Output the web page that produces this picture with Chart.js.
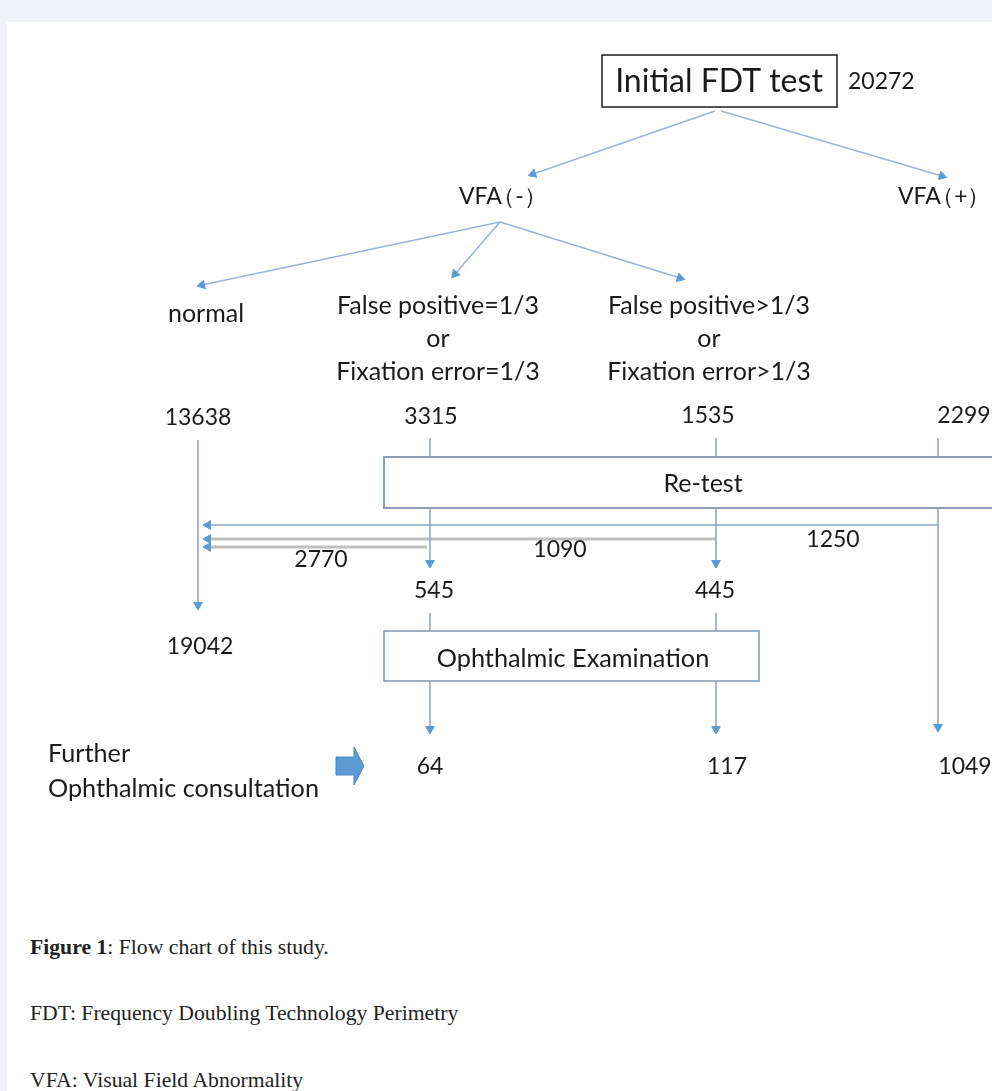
<!DOCTYPE html>
<html>
<head>
<meta charset="utf-8">
<script src="https://cdn.jsdelivr.net/npm/chart.js@4.4.1/dist/chart.umd.min.js"></script>
<style>
  html, body { margin: 0; padding: 0; }
  body { width: 992px; height: 1091px; background: #eff1f7; position: relative; overflow: hidden; }
  #panel { position: absolute; left: 7px; top: 22px; right: 0; bottom: 0; background: #fff; }
  #flow { position: absolute; left: 0; top: 0; }
  .cap { position: absolute; left: 30px; font-family: "Liberation Serif", "Times New Roman", serif; font-size: 21.7px; line-height: 22px; color: #222; white-space: nowrap; }
</style>
</head>
<body>
<div id="panel"></div>
<canvas id="flow" width="992" height="840"></canvas>
<div class="cap" style="top:936px"><b>Figure 1</b>: Flow chart of this study.</div>
<div class="cap" style="top:1002px">FDT: Frequency Doubling Technology Perimetry</div>
<div class="cap" style="top:1069px">VFA: Visual Field Abnormality</div>
<script>
// counts
const initialCount = 20272;
const firstSplit = ["VFA（-）", "VFA（+）"];
const vfaNegGroups = ["normal", "False positive=1/3\nor\nFixation error=1/3", "False positive>1/3\nor\nFixation error>1/3"];
const groupCounts = [13638, 3315, 1535, 2299];
const backToNormal = [2770, 1090, 1250];
const afterRetest = [545, 445];
const normalTotal = 19042;
const consultCounts = [64, 117, 1049];
const boxLabels = ["Initial FDT test", "Re-test", "Ophthalmic Examination"];
const sideLabel = "Further\nOphthalmic consultation";

// layout (figure coordinates, y grows downward)
const boxRects = [[602, 55, 837, 107], [384, 457, 1000, 508], [384, 631, 759, 681]];
const arrowEdges = [
  [715, 111, 533, 174], [721, 111, 942, 176],
  [500, 222, 202, 285], [500, 222, 455, 274], [500, 222, 680, 278],
  [198, 440, 198, 605], [430, 508, 430, 563], [716, 508, 716, 563],
  [938, 508, 938, 727], [430, 681, 430, 729], [716, 681, 716, 729]
];
const plainEdges = [[430, 438, 430, 457], [716, 438, 716, 457], [938, 438, 938, 457], [430, 613, 430, 631], [716, 613, 716, 631]];
const returnEdges = [[938, 525, 208, 525], [716, 539, 208, 539], [427, 547, 208, 547]];
const lineColors = ["#9db3d3", "#9db3d3", "#9db3d3", "#9db3d3", "#9db3d3", "#98a6b8", "#98a6b8", "#98a6b8", "#98a6b8", "#98a6b8", "#98a6b8"];

const arrowBlue = "#5b9bd5";
const font = 'Lato, "Liberation Sans", sans-serif';

function angleOf(e) {
  return Math.atan2(e[2] - e[0], -(e[3] - e[1])) * 180 / Math.PI;
}

function edgeSet(e, color, width, head) {
  return {
    type: "line",
    data: [{ x: e[0], y: e[1] }, { x: e[2], y: e[3] }],
    borderColor: color,
    borderWidth: width,
    showLine: true,
    pointStyle: "triangle",
    pointRadius: (ctx) => (head && ctx.dataIndex === 1 ? 5 : 0),
    pointRotation: angleOf(e),
    pointBackgroundColor: arrowBlue,
    pointBorderColor: arrowBlue,
    pointBorderWidth: 1,
    clip: false,
  };
}

const datasets = [];
arrowEdges.forEach((e, i) => datasets.push(edgeSet(e, lineColors[i], 1.6, true)));
plainEdges.forEach((e) => datasets.push(edgeSet(e, "#98a6b8", 1.6, false)));
datasets.push(edgeSet(returnEdges[0], "#8fa3bd", 1.6, true));
datasets.push(edgeSet(returnEdges[1], "#c0c0c0", 3, true));
datasets.push(edgeSet(returnEdges[2], "#c0c0c0", 3, true));

// text items: [text, x, y, size, align, line step]
const texts = [
  [boxLabels[0], 719, 82, 32, "center"],
  [String(initialCount), 848, 82, 23, "left"],
  [firstSplit[0], 459, 197, 23, "left"],
  [firstSplit[1], 898, 197, 23, "left"],
  [vfaNegGroups[0], 206, 314, 25, "center"],
  [vfaNegGroups[1], 438, 306, 25, "center", 33],
  [vfaNegGroups[2], 709, 306, 25, "center", 33],
  [String(groupCounts[0]), 198, 418, 23, "center"],
  [String(groupCounts[1]), 431, 417, 23, "center"],
  [String(groupCounts[2]), 708, 416, 23, "center"],
  [String(groupCounts[3]), 964, 416, 23, "center"],
  [boxLabels[1], 703, 484, 25, "center"],
  [String(backToNormal[0]), 321, 560, 23, "center"],
  [String(backToNormal[1]), 560, 550, 23, "center"],
  [String(backToNormal[2]), 833, 540, 23, "center"],
  [String(afterRetest[0]), 434, 591, 23, "center"],
  [String(afterRetest[1]), 715, 591, 23, "center"],
  [String(normalTotal), 200, 647, 23, "center"],
  [boxLabels[2], 573, 659, 25.3, "center"],
  [sideLabel, 48, 754, 25.2, "left", 35],
  [String(consultCounts[0]), 430, 767, 23, "center"],
  [String(consultCounts[1]), 727, 767, 23, "center"],
  [String(consultCounts[2]), 965, 767, 23, "center"],
];

const flowPlugin = {
  id: "flow",
  beforeDatasetsDraw(chart) {
    const { ctx, scales: { x, y } } = chart;
    ctx.save();
    boxRects.forEach((r, i) => {
      const x0 = x.getPixelForValue(r[0]), y0 = y.getPixelForValue(r[1]);
      const x1 = x.getPixelForValue(r[2]), y1 = y.getPixelForValue(r[3]);
      ctx.fillStyle = "#fff";
      ctx.fillRect(x0, y0, x1 - x0, y1 - y0);
      ctx.strokeStyle = i === 0 ? "#1e1e1e" : (i === 1 ? "#8a9db8" : "#7f96b6");
      ctx.lineWidth = i === 1 ? 2 : 1.5;
      ctx.strokeRect(x0, y0, x1 - x0, y1 - y0);
    });
    // block arrow next to "Further Ophthalmic consultation"
    const pts = [[336, 757], [354, 757], [354, 747], [364, 766], [354, 785], [354, 775], [336, 775]];
    ctx.beginPath();
    pts.forEach((p, i) => {
      const px = x.getPixelForValue(p[0]), py = y.getPixelForValue(p[1]);
      i ? ctx.lineTo(px, py) : ctx.moveTo(px, py);
    });
    ctx.closePath();
    ctx.fillStyle = arrowBlue;
    ctx.fill();
    ctx.strokeStyle = "#4a86c0";
    ctx.lineWidth = 1;
    ctx.stroke();
    ctx.restore();
  },
  afterDatasetsDraw(chart) {
    const { ctx, scales: { x, y } } = chart;
    ctx.save();
    ctx.fillStyle = "#1a1a1a";
    ctx.textBaseline = "middle";
    texts.forEach((t) => {
      ctx.font = t[3] + "px " + font;
      ctx.textAlign = t[4];
      const step = t[5] || 33;
      t[0].split("\n").forEach((ln, k) => {
        const px = x.getPixelForValue(t[1]);
        const py = y.getPixelForValue(t[2] + k * step);
        const cut = ln.indexOf("（");
        if (cut > 0) {
          // full-width brackets sit tight to the word, as in the figure
          const head = ln.slice(0, cut);
          ctx.fillText(head, px, py);
          ctx.fillText(ln.slice(cut), px + ctx.measureText(head).width - t[3] * 0.42, py);
        } else {
          ctx.fillText(ln, px, py);
        }
      });
    });
    ctx.restore();
  },
};

new Chart(document.getElementById("flow"), {
  type: "scatter",
  data: { datasets },
  options: {
    responsive: false,
    animation: false,
    events: [],
    layout: { padding: 0, autoPadding: false },
    plugins: { legend: { display: false }, tooltip: { enabled: false } },
    scales: {
      x: { type: "linear", min: 0, max: 992, display: false },
      y: { type: "linear", min: 0, max: 840, reverse: true, display: false },
    },
  },
  plugins: [flowPlugin],
});
</script>
</body>
</html>
